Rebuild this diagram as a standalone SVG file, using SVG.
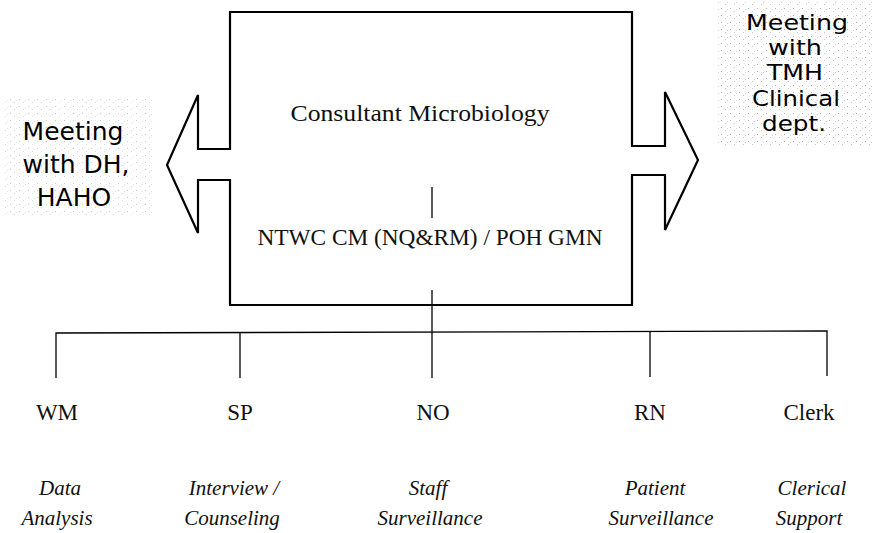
<svg xmlns="http://www.w3.org/2000/svg" width="872" height="533" viewBox="0 0 872 533">
<defs>
<pattern id="speck" width="9" height="7" patternUnits="userSpaceOnUse">
<rect x="1" y="1" width="1" height="1" fill="#999"/>
<rect x="5" y="4" width="1" height="1" fill="#bbb"/>
<rect x="7" y="2" width="1" height="1" fill="#ccc"/>
</pattern>
<style>
.ln{fill:none;stroke:#000;stroke-width:1.3}
.bx{fill:none;stroke:#000;stroke-width:2.2;stroke-linejoin:miter}
.sr{font-family:"Liberation Serif","Times New Roman",serif;font-size:23px;fill:#111;text-anchor:middle}
.it{font-family:"Liberation Serif","Times New Roman",serif;font-size:21px;font-style:italic;fill:#111;text-anchor:middle}
.ss{font-family:"DejaVu Sans",Verdana,sans-serif;font-size:25px;fill:#000;text-anchor:middle}
.sr2{font-family:"DejaVu Sans",Verdana,sans-serif;font-size:21.5px;fill:#000;text-anchor:middle}
</style>
</defs>
<rect width="872" height="533" fill="#fff"/>
<g id="meeting-left">
<rect x="2" y="96" width="150" height="120" fill="url(#speck)" opacity="0.5"/>
<text class="ss" x="73" y="140">Meeting</text>
<text class="ss" x="76" y="173">with DH,</text>
<text class="ss" x="74" y="206">HAHO</text>
</g>
<g id="meeting-right">
<rect x="718" y="2" width="154" height="146" fill="url(#speck)" opacity="0.8"/>
<text class="sr2" x="797" y="30" textLength="102" lengthAdjust="spacingAndGlyphs">Meeting</text>
<text class="sr2" x="795" y="55" textLength="54" lengthAdjust="spacingAndGlyphs">with</text>
<text class="sr2" x="795" y="80" textLength="56" lengthAdjust="spacingAndGlyphs">TMH</text>
<text class="sr2" x="796" y="105.5" textLength="88" lengthAdjust="spacingAndGlyphs">Clinical</text>
<text class="sr2" x="794" y="131" textLength="64" lengthAdjust="spacingAndGlyphs">dept.</text>
</g>
<g id="consultant">
<path class="bx" d="M230,12 H632 V146 H665 V92 L698,160 L665,230 V175 H632 V305 H230 V180 H198 V233 L167,165 L198,95 V149 H230 Z"/>
<text class="sr" x="420" y="121" textLength="259" lengthAdjust="spacingAndGlyphs">Consultant Microbiology</text>
<text class="sr" x="430" y="245" textLength="345" lengthAdjust="spacingAndGlyphs">NTWC CM (NQ&amp;RM) / POH GMN</text>
</g>
<g id="connectors">
<line class="ln" x1="432" y1="187" x2="432" y2="218"/>
<line class="ln" x1="432" y1="290" x2="432" y2="378"/>
<polyline class="ln" points="56,378 56,333 827,331 827,376"/>
<line class="ln" x1="240" y1="333" x2="240" y2="378"/>
<line class="ln" x1="650" y1="332" x2="650" y2="377"/>
</g>
<g id="wm"><text class="sr" x="57" y="420">WM</text><text class="it" x="60" y="495">Data</text><text class="it" x="57" y="525">Analysis</text></g>
<g id="sp"><text class="sr" x="240" y="420">SP</text><text class="it" x="234" y="495">Interview /</text><text class="it" x="232" y="525">Counseling</text></g>
<g id="no"><text class="sr" x="433" y="420">NO</text><text class="it" x="428" y="495">Staff</text><text class="it" x="430" y="525">Surveillance</text></g>
<g id="rn"><text class="sr" x="650" y="420">RN</text><text class="it" x="655" y="495">Patient</text><text class="it" x="661" y="525">Surveillance</text></g>
<g id="clerk"><text class="sr" x="809" y="420">Clerk</text><text class="it" x="812" y="495">Clerical</text><text class="it" x="809" y="525">Support</text></g>
</svg>
